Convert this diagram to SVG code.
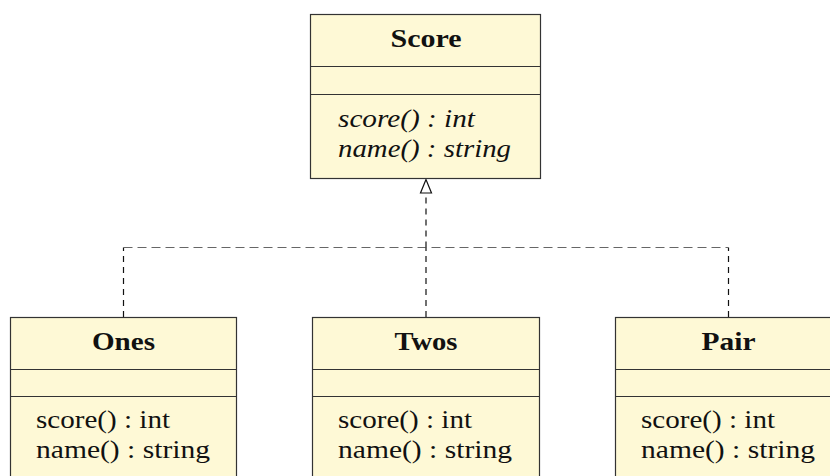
<svg xmlns="http://www.w3.org/2000/svg" width="830" height="476" viewBox="0 0 830 476">
<style>
.box{fill:#FEF9D6;stroke:#333;stroke-width:1.2}
.div{stroke:#333;stroke-width:1.2}
text{font-family:'Liberation Serif','Times New Roman','DejaVu Serif',serif;fill:#111}
.title{font-weight:bold;font-size:26px;text-anchor:middle}
.m{font-size:25px}
.mi{font-style:italic;font-size:25px}
.v{fill:none;stroke:#111;stroke-width:1.2;stroke-dasharray:6 5}
.h{fill:none;stroke:#666;stroke-width:1.2;stroke-dasharray:9 5}
</style>
<rect width="830" height="476" fill="#fff"/>
<g id="connectors">
<path class="v" d="M123.5,317 V247.5"/>
<path class="v" d="M426,317 V247.5"/>
<path class="v" d="M728.5,317 V247.5"/>
<path class="h" d="M123.5,247.5 H728.5"/>
<path class="v" d="M426,247.5 V193"/>
<path d="M426,179.5 L420.5,193 L431.5,193 Z" fill="#fff" stroke="#111" stroke-width="1.2"/>
</g>
<g id="score">
<rect class="box" x="310.5" y="14.5" width="230" height="164"/>
<line class="div" x1="310.5" y1="66.5" x2="540.5" y2="66.5"/>
<line class="div" x1="310.5" y1="94.5" x2="540.5" y2="94.5"/>
<text class="title" x="426" y="47" textLength="71" lengthAdjust="spacingAndGlyphs">Score</text>
<text class="mi" x="338" y="127" textLength="137" lengthAdjust="spacingAndGlyphs">score() : int</text>
<text class="mi" x="338" y="157" textLength="173" lengthAdjust="spacingAndGlyphs">name() : string</text>
</g>
<g id="ones">
<rect class="box" x="10.5" y="317.5" width="226" height="200"/>
<line class="div" x1="10.5" y1="369.5" x2="236.5" y2="369.5"/>
<line class="div" x1="10.5" y1="396.5" x2="236.5" y2="396.5"/>
<text class="title" x="123.5" y="350" textLength="63" lengthAdjust="spacingAndGlyphs">Ones</text>
<text class="m" x="36" y="428" textLength="134" lengthAdjust="spacingAndGlyphs">score() : int</text>
<text class="m" x="36" y="458" textLength="174" lengthAdjust="spacingAndGlyphs">name() : string</text>
</g>
<g id="twos">
<rect class="box" x="312.5" y="317.5" width="227" height="200"/>
<line class="div" x1="312.5" y1="369.5" x2="539.5" y2="369.5"/>
<line class="div" x1="312.5" y1="396.5" x2="539.5" y2="396.5"/>
<text class="title" x="426" y="350" textLength="63" lengthAdjust="spacingAndGlyphs">Twos</text>
<text class="m" x="338" y="428" textLength="134" lengthAdjust="spacingAndGlyphs">score() : int</text>
<text class="m" x="338" y="458" textLength="174" lengthAdjust="spacingAndGlyphs">name() : string</text>
</g>
<g id="pair">
<rect class="box" x="615.5" y="317.5" width="226" height="200"/>
<line class="div" x1="615.5" y1="369.5" x2="841.5" y2="369.5"/>
<line class="div" x1="615.5" y1="396.5" x2="841.5" y2="396.5"/>
<text class="title" x="728.5" y="350" textLength="54" lengthAdjust="spacingAndGlyphs">Pair</text>
<text class="m" x="641" y="428" textLength="134" lengthAdjust="spacingAndGlyphs">score() : int</text>
<text class="m" x="641" y="458" textLength="174" lengthAdjust="spacingAndGlyphs">name() : string</text>
</g>
</svg>
